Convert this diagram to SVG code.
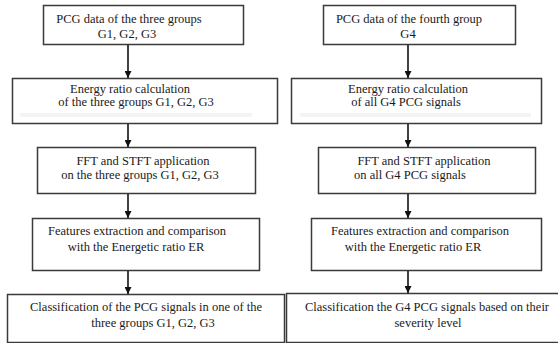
<svg xmlns="http://www.w3.org/2000/svg" width="558" height="343" viewBox="0 0 558 343">
  <defs>
    <style>
      .box { fill: #ffffff; stroke: #3a3a3a; stroke-width: 1.5; }
      .band { fill: #f4f4f4; stroke: none; }
      .t { font-family: "Liberation Serif", "Times New Roman", serif; font-size: 12.5px; fill: #1a1a1a; text-anchor: middle; }
      .conn { stroke: #111111; stroke-width: 1.6; fill: none; }
    </style>
    <marker id="arrow" viewBox="0 0 10 10" refX="10" refY="5" markerWidth="7" markerHeight="7" markerUnits="userSpaceOnUse" orient="auto">
      <path d="M0,0 L10,5 L0,10 z" fill="#111111"/>
    </marker>
  </defs>
  <rect width="558" height="343" fill="#ffffff"/>

  <!-- Left column -->
  <g id="L1">
    <rect class="box" x="43.5" y="5.5" width="200" height="39"/>
    <text class="t" x="129" y="23">PCG data of the three groups</text>
    <text class="t" x="127" y="38">G1, G2, G3</text>
  </g>
  <g id="L2">
    <rect class="box" x="12.5" y="78.5" width="265" height="45"/>
    <rect class="band" x="20" y="113" width="232" height="4"/>
    <text class="t" x="130" y="93">Energy ratio calculation</text>
    <text class="t" x="136" y="106">of the three  groups  G1, G2, G3</text>
  </g>
  <g id="L3">
    <rect class="box" x="37.5" y="147.5" width="218" height="46"/>
    <text class="t" x="143" y="165">FFT and STFT application</text>
    <text class="t" x="140" y="179">on the three  groups G1, G2, G3</text>
  </g>
  <g id="L4">
    <rect class="box" x="32.5" y="218.5" width="227" height="52"/>
    <text class="t" x="137" y="235">Features extraction and comparison</text>
    <text class="t" x="136" y="251">with the Energetic ratio ER</text>
  </g>
  <g id="L5">
    <rect class="box" x="7.5" y="294.5" width="277" height="48"/>
    <text class="t" x="146" y="311">Classification of the PCG signals in one of the</text>
    <text class="t" x="153" y="327">three groups G1, G2, G3</text>
  </g>

  <!-- Right column -->
  <g id="R1">
    <rect class="box" x="323.5" y="5.5" width="192" height="39"/>
    <text class="t" x="409" y="23">PCG data of the fourth group</text>
    <text class="t" x="408" y="38">G4</text>
  </g>
  <g id="R2">
    <rect class="box" x="291.5" y="78.5" width="250" height="45"/>
    <rect class="band" x="300" y="113" width="231" height="4"/>
    <text class="t" x="408" y="93">Energy ratio calculation</text>
    <text class="t" x="406" y="106">of all G4 PCG signals</text>
  </g>
  <g id="R3">
    <rect class="box" x="318.5" y="147.5" width="217" height="46"/>
    <text class="t" x="424" y="165">FFT and STFT application</text>
    <text class="t" x="410" y="179">on all G4 PCG signals</text>
  </g>
  <g id="R4">
    <rect class="box" x="311.5" y="218.5" width="230" height="52"/>
    <text class="t" x="420" y="235">Features extraction and comparison</text>
    <text class="t" x="413" y="251">with the Energetic ratio ER</text>
  </g>
  <g id="R5">
    <rect class="box" x="286.5" y="293.5" width="280" height="49"/>
    <text class="t" x="427" y="311">Classification the G4 PCG signals based on their</text>
    <text class="t" x="428" y="327">severity level</text>
  </g>

  <!-- Connectors -->
  <g id="connectors">
    <line class="conn" x1="128" y1="45" x2="128" y2="78" marker-end="url(#arrow)"/>
    <line class="conn" x1="128" y1="124" x2="128" y2="147" marker-end="url(#arrow)"/>
    <line class="conn" x1="128" y1="194" x2="128" y2="218" marker-end="url(#arrow)"/>
    <line class="conn" x1="128" y1="271" x2="128" y2="294" marker-end="url(#arrow)"/>
    <line class="conn" x1="408" y1="45" x2="408" y2="78" marker-end="url(#arrow)"/>
    <line class="conn" x1="408" y1="124" x2="408" y2="147" marker-end="url(#arrow)"/>
    <line class="conn" x1="408" y1="194" x2="408" y2="218" marker-end="url(#arrow)"/>
    <line class="conn" x1="408" y1="271" x2="408" y2="293" marker-end="url(#arrow)"/>
  </g>
</svg>
